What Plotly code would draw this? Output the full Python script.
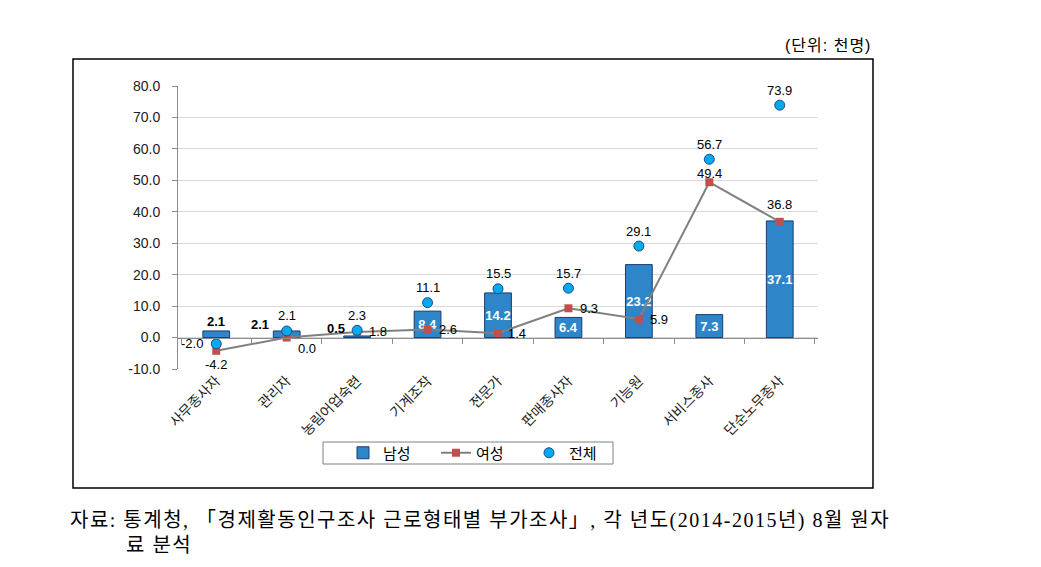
import plotly.graph_objects as go

categories = ["사무종사자", "관리자", "농림어업숙련", "기계조작", "전문가", "판매종사자", "기능원", "서비스종사", "단순노무종사"]
male = [2.1, 2.1, 0.5, 8.4, 14.2, 6.4, 23.2, 7.3, 37.1]
female = [-4.2, 0.0, 1.8, 2.6, 1.4, 9.3, 5.9, 49.4, 36.8]
total = [-2.0, 2.1, 2.3, 11.1, 15.5, 15.7, 29.1, 56.7, 73.9]
y_ticks = [-10, 0, 10, 20, 30, 40, 50, 60, 70, 80]

FONT = "Liberation Sans, Arial, Noto Sans CJK KR"
SERIF = "Liberation Serif, Noto Sans CJK KR"

# page offset from browser default body margin
OFF = 8
L, T, PW, PH = 178, 86, 640, 283  # plot area on screen (px)


def px(x):
    return (x - L) / PW


def py(y):
    return (T + PH - y) / PH


# label offsets (px) - styling only
male_inside = [False, False, False, True, True, True, True, True, True]
male_off = [(0, 9), (-27, 6), (-21, 7)]
female_off = [(0, -14), (20, -11), (21, 0), (20, 0), (19, 0), (21, 0), (20, 0), (0, 9), (0, 17)]
total_off = [(-24, 0)] + [(0, 15)] * 8

fig = go.Figure()
fig.add_trace(go.Bar(
    x=categories, y=male, name="남성",
    marker=dict(color="#2E86C9", line=dict(color="#1B3C70", width=1)),
    text=[f"{v:.1f}" if m else "" for v, m in zip(male, male_inside)],
    textposition=["inside" if m else "none" for m in male_inside],
    insidetextanchor="middle", textangle=0,
    textfont=dict(color="white", size=13, family=FONT, weight="bold"),
    constraintext="none",
    width=0.38,
))
fig.add_trace(go.Scatter(
    x=categories, y=female, name="여성", mode="lines+markers",
    line=dict(color="#808080", width=2),
    marker=dict(symbol="square", size=8, color="#C0504D"),
))
fig.add_trace(go.Scatter(
    x=categories, y=total, name="전체", mode="markers",
    marker=dict(symbol="circle", size=10, color="#00A9EC", line=dict(color="#1A4F8F", width=1)),
))

ann = []
for i in range(3):
    ann.append(dict(x=categories[i], y=male[i], text=f"<b>{male[i]:.1f}</b>", showarrow=False,
                    xshift=male_off[i][0], yshift=male_off[i][1],
                    font=dict(size=13, color="black", family=FONT)))
for i, v in enumerate(female):
    ann.append(dict(x=categories[i], y=v, text=f"{v:.1f}", showarrow=False,
                    xshift=female_off[i][0], yshift=female_off[i][1],
                    font=dict(size=13, color="black", family=FONT)))
for i, v in enumerate(total):
    ann.append(dict(x=categories[i], y=v, text=f"{v:.1f}", showarrow=False,
                    xshift=total_off[i][0], yshift=total_off[i][1],
                    font=dict(size=13, color="black", family=FONT)))

ann.append(dict(xref="paper", yref="paper", x=px(873), y=py(45),
                xanchor="right", yanchor="middle", showarrow=False,
                text='<span style="letter-spacing:1px">(단위: 천명)</span>',
                font=dict(size=16, color="black", family=FONT)))
ann.append(dict(xref="paper", yref="paper", x=px(68), y=py(520),
                xanchor="left", yanchor="middle", showarrow=False, align="left",
                text='<span style="letter-spacing:1.5px">자료: 통계청, 「경제활동인구조사 근로형태별 부가조사」, 각 년도(2014-2015년) 8월 원자</span>',
                font=dict(size=20, color="black", family=SERIF)))
ann.append(dict(xref="paper", yref="paper", x=px(124), y=py(545),
                xanchor="left", yanchor="middle", showarrow=False, align="left",
                text='<span style="letter-spacing:1.5px">료 분석</span>',
                font=dict(size=20, color="black", family=SERIF)))

W, H = 1041 - OFF, 567 - OFF
ml, mt = L - OFF, T - OFF
fig.update_layout(
    width=W, height=H,
    margin=dict(l=ml, r=W - ml - PW, t=mt, b=H - mt - PH),
    paper_bgcolor="white", plot_bgcolor="white",
    font=dict(family=FONT, size=13, color="black"),
    bargap=0.62,
    showlegend=True,
    legend=dict(orientation="h", x=px(343), y=py(453),
                xanchor="left", yanchor="middle",
                bgcolor="rgba(0,0,0,0)", borderwidth=0,
                font=dict(size=15, family=FONT),
                entrywidth=48, itemwidth=30,
                tracegroupgap=0),
    annotations=ann,
    xaxis=dict(type="category", categoryorder="array", categoryarray=categories,
               showline=False, showgrid=False, ticks="", tickangle=-45,
               tickfont=dict(size=14, family=FONT, color="#222")),
    xaxis2=dict(overlaying="x", matches="x", anchor="free", position=10 / 90,
                showline=True, linecolor="#8c8c8c", linewidth=1,
                ticks="outside", tickson="boundaries", ticklen=5, tickcolor="#8c8c8c",
                showticklabels=False, showgrid=False, side="bottom"),
    yaxis=dict(range=[-10, 80], tickvals=y_ticks, ticktext=[f"{v:.1f}" for v in y_ticks],
               showgrid=True, gridcolor="#D9D9D9", gridwidth=1,
               showline=True, linecolor="#8c8c8c", linewidth=1,
               ticks="outside", ticklen=5, tickcolor="#8c8c8c",
               ticklabelstandoff=9,
               zeroline=False,
               tickfont=dict(size=14, family=FONT, color="#222")),
    shapes=[
        dict(type="rect", xref="paper", yref="paper",
             x0=px(73), x1=px(873), y0=py(488), y1=py(59),
             line=dict(color="black", width=1.5), fillcolor="rgba(0,0,0,0)", layer="below"),
        dict(type="rect", xref="paper", yref="paper",
             x0=px(323), x1=px(613), y0=py(464), y1=py(442),
             line=dict(color="#808080", width=1), fillcolor="rgba(0,0,0,0)", layer="below"),
    ],
)
# invisible helper trace to activate the zero-crossing category axis
fig.add_trace(go.Scatter(x=categories, y=[None] * len(categories), xaxis="x2",
                         showlegend=False, hoverinfo="skip"))

fig.write_html("out.html")
